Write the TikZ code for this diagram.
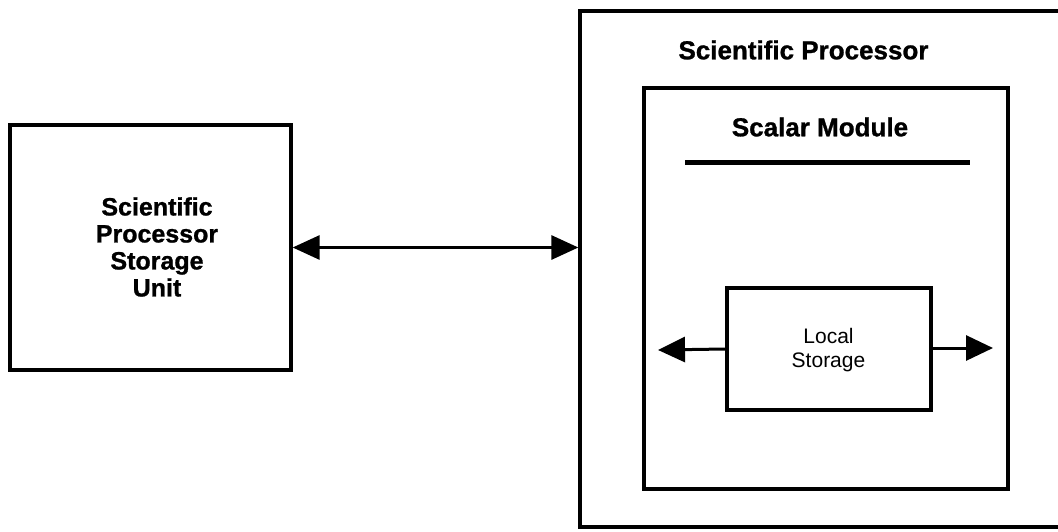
\documentclass[tikz,border=0pt]{standalone}
\usepackage{fontspec}
\setmainfont{Liberation Sans}
\newfontface\heavyfont{Liberation Sans Bold}[FakeBold=1]
\usetikzlibrary{arrows.meta}
\begin{document}
\begin{tikzpicture}[x=1pt,y=-1pt,
  box/.style={draw=black,line width=3.3pt,fill=none,inner sep=0pt},
  boldlabel/.style={font=\fontsize{25}{27}\heavyfont,align=center,inner sep=0pt},
  headlabel/.style={font=\fontsize{26}{28}\heavyfont,inner sep=0pt},
  plainlabel/.style={font=\fontsize{21}{24}\selectfont,align=center,inner sep=0pt},
  link/.style={line width=3pt,{Triangle[length=27pt,width=24pt]}-{Triangle[length=27pt,width=24pt]}},
  outlink/.style={line width=3pt,-{Triangle[length=27pt,width=25pt]}}]
\useasboundingbox (0,0) rectangle (1058,531);
\clip (0,0) rectangle (1058,531);
\fill[white] (0,0) rectangle (1058,531);

% storage unit on the left
\node[box,minimum width=281pt,minimum height=245pt] (ssu) at (150.5,247.5) {};
\node[boldlabel] (ssutext) at (157,247) {Scientific\\Processor\\Storage\\Unit};

% processor enclosure, running off the right edge
\node[box,minimum width=495pt,minimum height=516pt] (sp) at (827.5,269) {};
\node[headlabel] (sptext) at (803.5,50) {Scientific Processor};

% scalar module
\node[box,minimum width=364pt,minimum height=401pt] (sm) at (826,288.5) {};
\node[headlabel] (smtext) at (820,127) {Scalar Module};
\draw[line width=5pt] (685,162) -- (970,162);

% local storage
\node[box,line width=3.6pt,minimum width=204pt,minimum height=122pt] (ls) at (829,349) {};
\node[plainlabel] (lstext) at (828.5,350) {Local\\Storage};

% connectors
\draw[link] (ssu.east) -- (ssu.east -| sp.west);
\coordinate (lsleft) at (658,350);
\coordinate (lsright) at (993,348);
\draw[outlink] (ls.west) -- (lsleft);
\draw[outlink] (ls.east |- lsright) -- (lsright);
\end{tikzpicture}
\end{document}
